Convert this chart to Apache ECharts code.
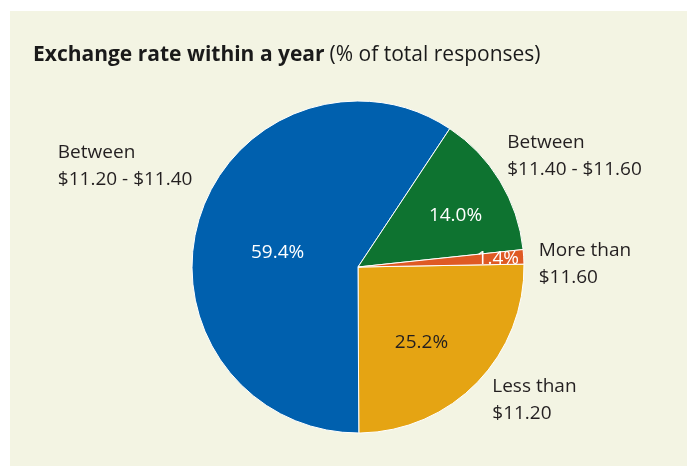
<!DOCTYPE html>
<html>
<head>
<meta charset="utf-8">
<script src="https://cdn.jsdelivr.net/npm/echarts@6/dist/echarts.min.js"></script>
<style>
html,body{margin:0;padding:0;background:#ffffff;}
#chart{width:687px;height:466px;}
</style>
</head>
<body>
<div id="chart"></div>
<script>
// Data (clockwise from the 3 o'clock position)
const categories = ['Less than\n$11.20', 'Between\n$11.20 - $11.40', 'Between\n$11.40 - $11.60', 'More than\n$11.60'];
const values = [25.2, 59.4, 14.0, 1.4];
const colors = ['#e5a413', '#0060ae', '#0e7330', '#df5a24'];
const pctColors = ['#231f20', '#ffffff', '#ffffff', '#ffffff'];
const titleMain = 'Exchange rate within a year';
const titleSub = '(% of total responses)';

// label fine-tuning offsets (px), by slice index
const insideOffsets = [[2, 15], [2, 10], [24, -7], [54, -3]];
const outsideOffsets = [[-3, 9], [15, -50], [-13, -19], [-7, 8]];

const FONT = '"Open Sans", "Noto Sans", sans-serif';
const chart = echarts.init(document.getElementById('chart'), null, {renderer: 'canvas'});

const pieData = categories.map((c, i) => ({
  name: c, value: values[i], itemStyle: {color: colors[i]}
}));

const common = {
  type: 'pie',
  center: [358, 267],
  radius: [0, 166],
  startAngle: 1,
  clockwise: true,
  avoidLabelOverlap: false,
  animation: false,
  silent: true
};

chart.setOption({
  backgroundColor: '#ffffff',
  graphic: [{
    type: 'rect', z: -10,
    shape: {x: 10, y: 11, width: 677, height: 455},
    style: {fill: '#f3f4e3'}
  }],
  title: {
    left: 28, top: 40,
    text: '{b|' + titleMain + '} {n|' + titleSub + '}',
    textStyle: {
      rich: {
        b: {fontFamily: FONT, fontSize: 21, fontWeight: 'bold', color: '#1a1a1a'},
        n: {fontFamily: FONT, fontSize: 21, fontWeight: 'normal', color: '#1a1a1a'}
      }
    }
  },
  series: [
    Object.assign({}, common, {
      name: 'slices',
      data: pieData.map((d, i) => Object.assign({}, d, {
        label: {color: pctColors[i]}
      })),
      itemStyle: {borderColor: '#ffffff', borderWidth: 1},
      label: {
        show: true, position: 'inside',
        formatter: p => p.value.toFixed(1) + '%',
        fontFamily: FONT, fontSize: 19
      },
      labelLine: {show: false},
      labelLayout: p => ({dx: insideOffsets[p.dataIndex][0], dy: insideOffsets[p.dataIndex][1]})
    }),
    Object.assign({}, common, {
      name: 'names',
      z: 3,
      data: pieData.map(d => ({name: d.name, value: d.value})),
      itemStyle: {color: 'rgba(0,0,0,0)', borderWidth: 0},
      label: {
        show: true, position: 'outside',
        formatter: p => p.name.split('\n').map(s => '{a|' + s + '}').join('\n'),
        rich: {a: {fontFamily: FONT, fontSize: 19, color: '#231f20', lineHeight: 27, align: 'left'}},
        distanceToLabelLine: 4
      },
      labelLine: {show: false, length: 12, length2: 6},
      labelLayout: p => ({dx: outsideOffsets[p.dataIndex][0], dy: outsideOffsets[p.dataIndex][1]})
    })
  ]
});
</script>
</body>
</html>
